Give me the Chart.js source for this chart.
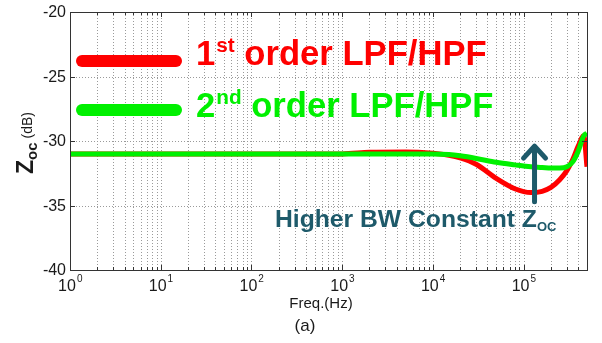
<!DOCTYPE html>
<html>
<head>
<meta charset="utf-8">
<script src="https://cdn.jsdelivr.net/npm/chart.js@4.4.1/dist/chart.umd.min.js"></script>
<style>
  html, body { margin: 0; padding: 0; background: #fff; }
  #wrap { width: 602px; height: 343px; }
</style>
</head>
<body>
<div id="wrap"><canvas id="chart" width="602" height="343"></canvas></div>
<script>
// frequency sweep (Hz) and output impedance for both filter orders (dB)
const freqHz = [1, 10, 100, 1000, 2000, 5000, 10000, 15000, 20000, 30000, 50000, 80000, 120000, 160000, 200000, 250000, 300000, 350000, 400000, 460000, 500000];
const firstOrderDb = [-31, -31, -31, -31, -30.88, -30.85, -30.95, -31.1, -31.3, -31.8, -32.9, -33.7, -34.0, -33.9, -33.6, -33.0, -32.3, -31.4, -30.4, -29.6, -32.0];
const secondOrderDb = [-31, -31, -31, -31, -31, -31, -31, -31.05, -31.15, -31.35, -31.65, -31.85, -32.0, -32.05, -32.1, -32.1, -32.0, -31.6, -30.8, -29.6, -29.4];

const yTicks = [-20, -25, -30, -35, -40];
const xDecades = [0, 1, 2, 3, 4, 5];

const RED = '#ff0000';
const GREEN = '#00f000';
const TEAL = '#1e5a6a';
const FONT = '"Liberation Sans", Arial, sans-serif';

function toPoints(ys) {
    return freqHz.map((f, i) => ({ x: f, y: ys[i] }));
}

// every 1..9 x 10^n position for the log grid
let logTicks = [];
xDecades.forEach(d => {
    for (let m = 1; m <= 9; m++) {
        let v = m * Math.pow(10, d);
        if (v <= 5e5) logTicks.push(v);
    }
});

// font size (px) so that a bold string spans the given width
function fitSize(ctx, text, width, base) {
    ctx.font = 'bold ' + base + 'px ' + FONT;
    return base * width / ctx.measureText(text).width;
}

const frame = {
    id: 'frame',
    beforeDatasetsDraw(chart) {
        const ctx = chart.ctx;
        const a = chart.chartArea;
        const xs = chart.scales.x, ys = chart.scales.y;
        ctx.save();
        ctx.strokeStyle = '#9a9a9a';
        ctx.lineWidth = 1;
        ctx.setLineDash([1, 2]);
        logTicks.forEach(v => {
            let px = Math.round(xs.getPixelForValue(v)) + 0.5;
            ctx.beginPath();
            ctx.moveTo(px, a.top);
            ctx.lineTo(px, a.bottom);
            ctx.stroke();
        });
        yTicks.forEach(v => {
            let py = Math.round(ys.getPixelForValue(v)) + 0.5;
            ctx.beginPath();
            ctx.moveTo(a.left, py);
            ctx.lineTo(a.right, py);
            ctx.stroke();
        });
        ctx.restore();
    },
    afterDraw(chart) {
        const ctx = chart.ctx;
        const a = chart.chartArea;
        const xs = chart.scales.x, ys = chart.scales.y;
        ctx.save();

        // box and inward ticks
        ctx.strokeStyle = '#333';
        ctx.lineWidth = 1;
        ctx.strokeRect(Math.round(a.left) + 0.5, Math.round(a.top) + 0.5, Math.round(a.right - a.left), Math.round(a.bottom - a.top));
        logTicks.forEach(v => {
            let px = Math.round(xs.getPixelForValue(v)) + 0.5;
            let len = Number.isInteger(Math.log10(v)) ? 5 : 3;
            ctx.beginPath();
            ctx.moveTo(px, a.bottom); ctx.lineTo(px, a.bottom - len);
            ctx.moveTo(px, a.top); ctx.lineTo(px, a.top + len);
            ctx.stroke();
        });
        yTicks.forEach(v => {
            let py = Math.round(ys.getPixelForValue(v)) + 0.5;
            ctx.beginPath();
            ctx.moveTo(a.left, py); ctx.lineTo(a.left + 5, py);
            ctx.moveTo(a.right, py); ctx.lineTo(a.right - 5, py);
            ctx.stroke();
        });

        // y tick labels
        ctx.fillStyle = '#1a1a1a';
        ctx.font = '16px ' + FONT;
        ctx.textAlign = 'right';
        ctx.textBaseline = 'middle';
        yTicks.forEach(v => {
            ctx.fillText(String(v), a.left - 4, ys.getPixelForValue(v) + 1);
        });

        // x tick labels as 10^n
        ctx.textBaseline = 'alphabetic';
        xDecades.forEach(d => {
            let px = xs.getPixelForValue(Math.pow(10, d));
            ctx.font = '16px ' + FONT;
            let w = ctx.measureText('10').width;
            ctx.textAlign = 'left';
            ctx.fillText('10', px - w / 2 - 3, a.bottom + 21);
            ctx.font = '10px ' + FONT;
            ctx.fillText(String(d), px + w / 2 - 2, a.bottom + 12);
        });

        // axis titles
        ctx.textAlign = 'center';
        ctx.font = '15px ' + FONT;
        ctx.fillText('Freq.(Hz)', 321, 308);
        ctx.font = '17px ' + FONT;
        ctx.fillText('(a)', 305, 331);

        ctx.save();
        ctx.translate(33, 143);
        ctx.rotate(-Math.PI / 2);
        ctx.textAlign = 'left';
        let parts = [
            { t: 'Z', f: 'bold 23px ' + FONT, dy: 0 },
            { t: 'oc', f: 'bold 15px ' + FONT, dy: 4 },
            { t: ' (dB)', f: '14px ' + FONT, dy: -1 }
        ];
        let total = 0;
        parts.forEach(p => { ctx.font = p.f; total += ctx.measureText(p.t).width; });
        let cx = -total / 2;
        parts.forEach(p => {
            ctx.font = p.f;
            ctx.fillText(p.t, cx, p.dy);
            cx += ctx.measureText(p.t).width;
        });
        ctx.restore();

        // legend
        const legend = [
            { color: RED, y: 61, base: 65, num: '1', sup: 'st' },
            { color: GREEN, y: 110, base: 117, num: '2', sup: 'nd' }
        ];
        let big = fitSize(ctx, '1st order LPF/HPF', 302, 32);
        legend.forEach(l => {
            ctx.strokeStyle = l.color;
            ctx.lineWidth = 12;
            ctx.lineCap = 'round';
            ctx.beginPath();
            ctx.moveTo(82, l.y);
            ctx.lineTo(176, l.y);
            ctx.stroke();
            ctx.fillStyle = l.color;
            ctx.textAlign = 'left';
            let x = 196;
            ctx.font = 'bold ' + big + 'px ' + FONT;
            ctx.fillText(l.num, x, l.base);
            x += ctx.measureText(l.num).width + 1;
            ctx.font = 'bold ' + (big * 0.6) + 'px ' + FONT;
            ctx.fillText(l.sup, x, l.base - 13);
            x += ctx.measureText(l.sup).width;
            ctx.font = 'bold ' + big + 'px ' + FONT;
            ctx.fillText(' order LPF/HPF', x, l.base);
        });

        // annotation arrow and caption
        let ax = xs.getPixelForValue(1.32e5);
        let aTop = ys.getPixelForValue(-30.4);
        let aBot = ys.getPixelForValue(-34.7);
        ctx.strokeStyle = TEAL;
        ctx.lineWidth = 5;
        ctx.lineCap = 'round';
        ctx.lineJoin = 'round';
        ctx.beginPath();
        ctx.moveTo(ax, aBot);
        ctx.lineTo(ax, aTop);
        ctx.moveTo(ax - 11, aTop + 12);
        ctx.lineTo(ax, aTop);
        ctx.lineTo(ax + 11, aTop + 12);
        ctx.stroke();

        ctx.fillStyle = TEAL;
        let cap = fitSize(ctx, 'Higher BW Constant Z', 262, 22);
        ctx.font = 'bold ' + cap + 'px ' + FONT;
        ctx.fillText('Higher BW Constant Z', 275, 227);
        let tw = ctx.measureText('Higher BW Constant Z').width;
        ctx.font = 'bold 13px ' + FONT;
        ctx.fillText('OC', 275 + tw, 231);

        ctx.restore();
    }
};

var ctx = document.getElementById('chart').getContext('2d');
var mychart = new Chart(ctx, {
    type: 'line',
    data: {
        datasets: [{
            label: '2nd order LPF/HPF',
            data: toPoints(secondOrderDb),
            borderColor: GREEN,
            borderWidth: 5,
            pointRadius: 0,
            cubicInterpolationMode: 'monotone',
            order: 0
        }, {
            label: '1st order LPF/HPF',
            data: toPoints(firstOrderDb),
            borderColor: RED,
            borderWidth: 5,
            pointRadius: 0,
            cubicInterpolationMode: 'monotone',
            order: 1
        }]
    },
    options: {
        responsive: false,
        animation: false,
        layout: { padding: { left: 62, right: 15, top: 12, bottom: 65 } },
        plugins: { legend: { display: false }, tooltip: { enabled: false } },
        scales: {
            x: {
                type: 'logarithmic',
                min: 1,
                max: 5e5,
                ticks: { display: false },
                grid: { display: false },
                border: { display: false }
            },
            y: {
                min: -40,
                max: -20,
                ticks: { display: false },
                grid: { display: false },
                border: { display: false }
            }
        }
    },
    plugins: [frame]
});
</script>
</body>
</html>
